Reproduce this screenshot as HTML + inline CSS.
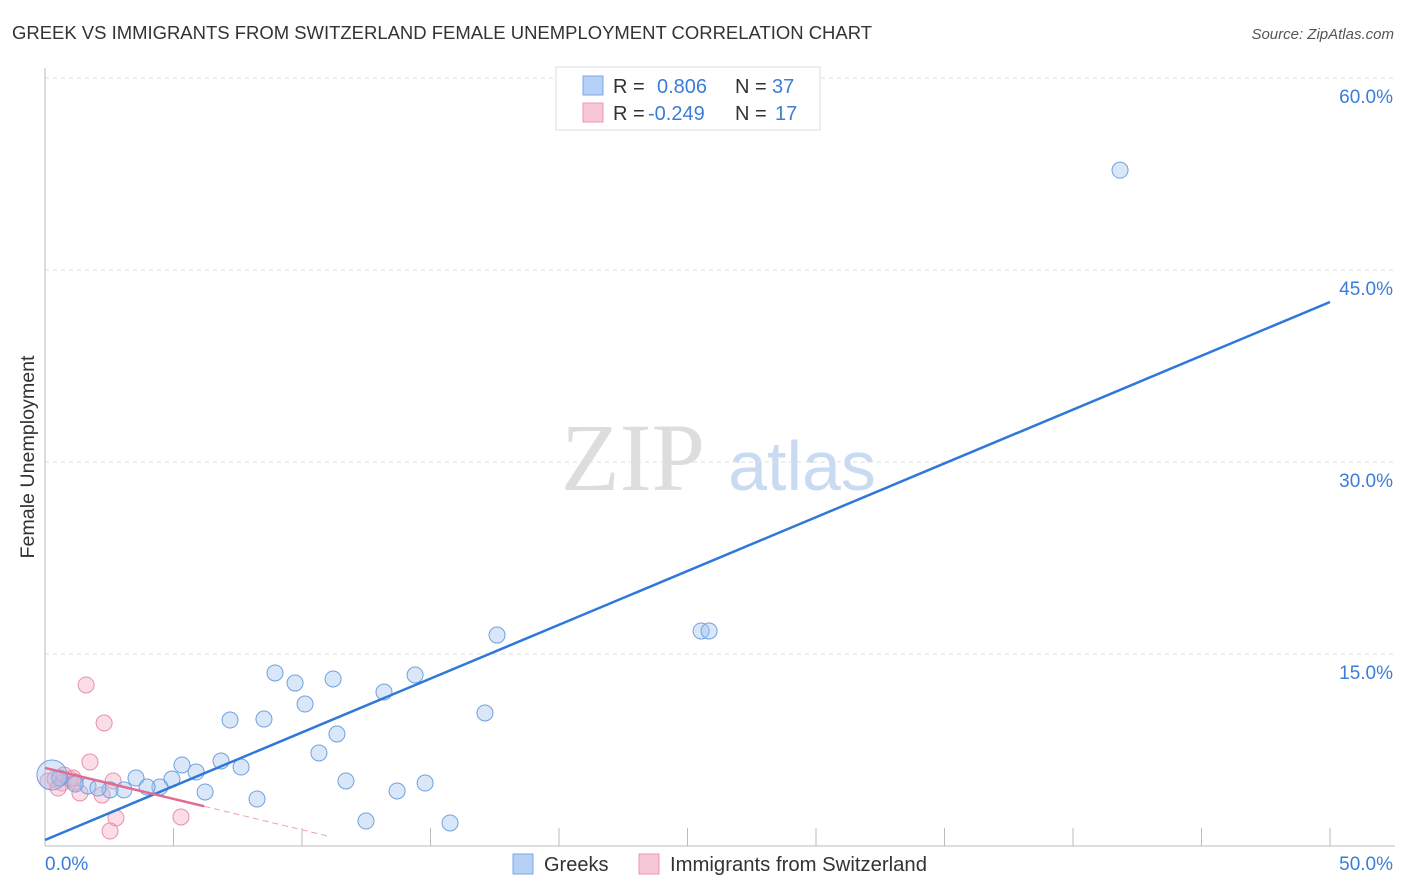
<!DOCTYPE html>
<html><head><meta charset="utf-8">
<style>
body{margin:0;background:#fff;font-family:"Liberation Sans",sans-serif;}
#wrap{position:relative;width:1406px;height:892px;overflow:hidden;}
</style></head>
<body>
<div id="wrap">
<svg id="svg" width="1406" height="892" xmlns="http://www.w3.org/2000/svg">
<text x="12" y="39" font-size="18" fill="#333" textLength="860" lengthAdjust="spacingAndGlyphs">GREEK VS IMMIGRANTS FROM SWITZERLAND FEMALE UNEMPLOYMENT CORRELATION CHART</text>
<text x="1394" y="39" font-size="15" fill="#555" font-style="italic" text-anchor="end">Source: ZipAtlas.com</text>
<text x="633" y="490" font-size="96" fill="#ddd" font-family="Liberation Serif,serif" text-anchor="middle">ZIP</text>
<text x="802" y="490" font-size="70" fill="#c9dbf3" text-anchor="middle">atlas</text>
<text transform="translate(34,457) rotate(-90)" font-size="19" fill="#333" text-anchor="middle" textLength="203" lengthAdjust="spacingAndGlyphs">Female Unemployment</text>
<g id="grid"></g>
<g id="pts"></g>
<g id="lines"></g>
<rect x="556" y="67" width="264" height="63" fill="#fff" stroke="#ddd"/>
<rect x="583" y="76" width="20" height="19" fill="#b6d1f5" stroke="#7aa8e6"/>
<rect x="583" y="103" width="20" height="19" fill="#f8c7d6" stroke="#ec9ab4"/>
<text y="93" font-size="20" fill="#333"><tspan x="613">R =</tspan><tspan x="657" fill="#3b7dd8">0.806</tspan><tspan x="735">N =</tspan><tspan x="772" fill="#3b7dd8">37</tspan></text>
<text y="120" font-size="20" fill="#333"><tspan x="613">R =</tspan><tspan x="648" fill="#3b7dd8">-0.249</tspan><tspan x="735">N =</tspan><tspan x="775" fill="#3b7dd8">17</tspan></text>
<rect x="513" y="854" width="20" height="20" fill="#b6d1f5" stroke="#7aa8e6"/>
<text x="544" y="871" font-size="20" fill="#333">Greeks</text>
<rect x="639" y="854" width="20" height="20" fill="#f8c7d6" stroke="#ec9ab4"/>
<text x="670" y="871" font-size="20" fill="#333" textLength="257" lengthAdjust="spacingAndGlyphs">Immigrants from Switzerland</text>
</svg>
</div>
<script>
const yTicks=[15,30,45,60];
const yTickLabels=["15.0%","30.0%","45.0%","60.0%"];
const xTicks=[5,10,15,20,25,30,35,40,45,50];
const greekX=[41.83,17.59,25.53,25.84,8.95,9.73,11.21,14.4,13.19,10.12,17.12,7.2,8.52,11.36,10.66,6.85,7.63,5.33,5.88,11.71,14.79,13.7,3.54,4.94,4.47,3.97,6.23,8.25,12.49,15.76,3.07,2.53,1.67,1.17,0.58,0.27,2.06];
const greekY=[52.8,16.48,16.8,16.8,13.52,12.73,13.05,13.36,12.03,11.09,10.39,9.84,9.92,8.75,7.27,6.64,6.17,6.33,5.78,5.08,4.92,4.3,5.31,5.23,4.61,4.61,4.22,3.67,1.95,1.8,4.38,4.38,4.69,4.84,5.31,5.55,4.53];
const swissX=[1.6,2.3,1.75,2.65,2.22,2.76,2.53,5.29,1.36,0.97,0.66,0.39,0.12,0.74,1.09,0.51,1.17];
const swissY=[12.58,9.61,6.56,5.08,3.98,2.19,1.17,2.27,4.14,5.23,4.92,5.23,5.08,5.55,5.31,4.53,5.0];
const greekLine=[0.47,42.5];
const swissLine=[6.1,3.1,6.2];
const NS="http://www.w3.org/2000/svg";
const X=v=>45+v*25.7, Y=v=>846-v*12.8;
function mk(tag,attrs,parent){const e=document.createElementNS(NS,tag);for(const k in attrs)e.setAttribute(k,attrs[k]);document.getElementById(parent).appendChild(e);return e;}
yTicks.forEach((t,i)=>{
 const l=mk('line',{x1:45,x2:1395,y1:Y(t),y2:Y(t),stroke:'#ddd','stroke-dasharray':'4,4'},'grid');
 
 
 const tx=mk('text',{x:1393,y:Y(t)+25,'font-size':19,fill:'#3b7dd8','text-anchor':'end'},'grid');
 tx.textContent=yTickLabels[i];
 
 
});
xTicks.forEach(t=>{
 const l=mk('line',{x1:X(t),x2:X(t),y1:828,y2:846,stroke:'#bbb'},'grid');
 
 
});
let a=mk('line',{x1:45,x2:1395,y1:846,y2:846,stroke:'#bbb'},'grid');


a=mk('line',{x1:45,x2:45,y1:68,y2:846,stroke:'#bbb'},'grid');


let t0=mk('text',{x:45,y:870,'font-size':19,fill:'#3b7dd8'},'grid');t0.textContent='0.0%';


let t1=mk('text',{x:1393,y:870,'font-size':19,fill:'#3b7dd8','text-anchor':'end'},'grid');t1.textContent='50.0%';


swissX.forEach((x,i)=>{
 const c=mk('circle',{cx:X(x),cy:Y(swissY[i]),r:8,fill:'rgba(245,170,195,0.4)',stroke:'#e890ab','stroke-width':1},'pts');
 
 
});
greekX.forEach((x,i)=>{
 const c=mk('circle',{cx:X(x),cy:Y(greekY[i]),r:i==35?15:8,fill:'rgba(160,196,240,0.4)',stroke:'#6fa1e0','stroke-width':1},'pts');
 
 
});
let gl=mk('line',{x1:X(0),y1:Y(greekLine[0]),x2:X(50),y2:Y(greekLine[1]),stroke:'#2f78d8','stroke-width':2.5},'lines');


const slope=(swissLine[1]-swissLine[0])/swissLine[2];
let sl=mk('line',{x1:X(0),y1:Y(swissLine[0]),x2:X(swissLine[2]),y2:Y(swissLine[1]),stroke:'#e36a93','stroke-width':2.5},'lines');


const xe=11.1;
let sd=mk('line',{x1:X(swissLine[2]),y1:Y(swissLine[1]),x2:X(xe),y2:Y(swissLine[0]+slope*xe),stroke:'#eaa0b8','stroke-width':1,'stroke-dasharray':'6,4'},'lines');


</script>
</body></html>
